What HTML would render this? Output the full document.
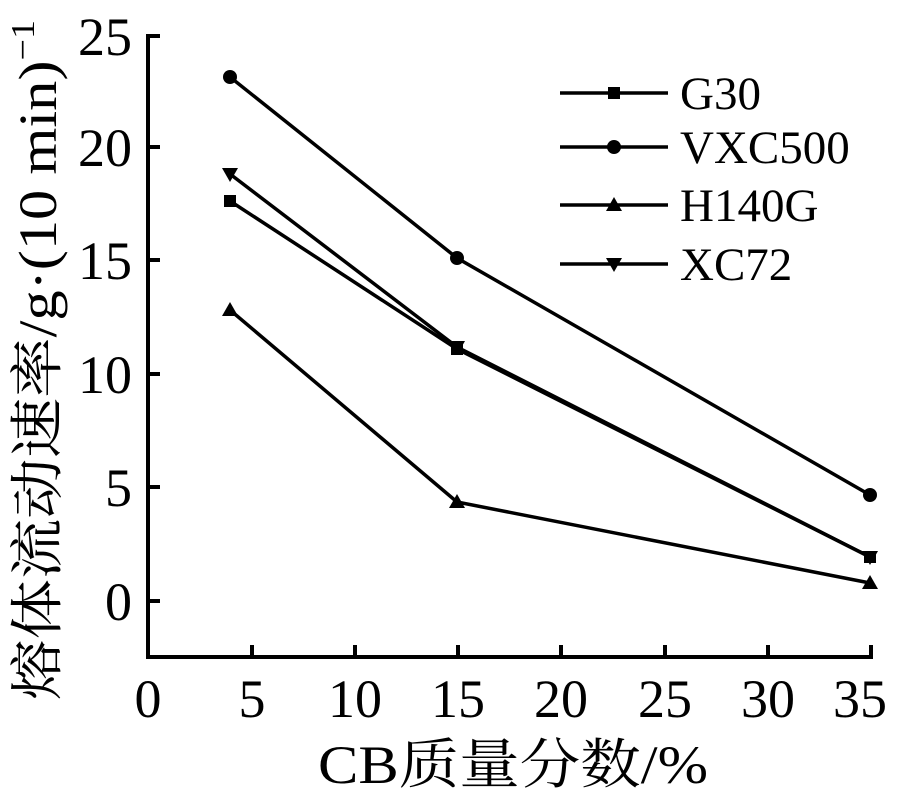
<!DOCTYPE html>
<html><head><meta charset="utf-8"><style>body{margin:0;background:#fff}</style></head><body>
<svg width="901" height="789" xmlns="http://www.w3.org/2000/svg" font-family="Liberation Serif, Noto Serif CJK SC, serif">
<g stroke="#000" stroke-width="4" fill="none">
<polyline points="148,34 148,657 873,657"/>
<line x1="148" y1="36" x2="160" y2="36"/><line x1="148" y1="147" x2="160" y2="147"/>
<line x1="148" y1="260" x2="160" y2="260"/><line x1="148" y1="374" x2="160" y2="374"/>
<line x1="148" y1="487" x2="160" y2="487"/><line x1="148" y1="601" x2="160" y2="601"/>
<line x1="252" y1="657" x2="252" y2="645"/><line x1="355" y1="657" x2="355" y2="645"/>
<line x1="458" y1="657" x2="458" y2="645"/><line x1="561" y1="657" x2="561" y2="645"/>
<line x1="665" y1="657" x2="665" y2="645"/><line x1="768" y1="657" x2="768" y2="645"/>
<line x1="871" y1="657" x2="871" y2="645"/>
</g>
<g stroke="#000" stroke-width="3.5" fill="none">
<polyline points="230,201 457,349 870,557"/>
<polyline points="230,77 457,258 870,495"/>
<polyline points="230,310 457,502 870,583"/>
<polyline points="230,174 457,347 870,557"/>
<line x1="560" y1="93" x2="668" y2="93"/><line x1="560" y1="147" x2="668" y2="147"/>
<line x1="560" y1="205" x2="668" y2="205"/><line x1="560" y1="264" x2="668" y2="264"/>
</g>
<g fill="#000">
<rect x="224" y="195" width="12" height="12"/><rect x="451" y="343" width="12" height="12"/><rect x="864" y="551" width="12" height="12"/>
<circle cx="230" cy="77" r="7"/><circle cx="457" cy="258" r="7"/><circle cx="870" cy="495" r="7"/>
<polygon points="230,302 238,316 222,316"/><polygon points="457,494 465,508 449,508"/><polygon points="870,575 878,589 862,589"/>
<polygon points="222,168 238,168 230,182"/><polygon points="449,341 465,341 457,355"/><polygon points="862,551 878,551 870,565"/>
<rect x="608" y="87" width="12" height="12"/><circle cx="614" cy="147" r="7"/>
<polygon points="614,197 622,211 606,211"/><polygon points="606,258 622,258 614,272"/>
</g>
<g font-size="47" fill="#000">
<text x="680" y="109">G30</text><text x="680" y="163">VXC500</text>
<text x="680" y="221">H140G</text><text x="680" y="280">XC72</text>
</g>
<g font-size="54" fill="#000" text-anchor="end">
<text x="132" y="55">25</text><text x="132" y="166">20</text><text x="132" y="279">15</text>
<text x="132" y="393">10</text><text x="132" y="506">5</text><text x="132" y="620">0</text>
</g>
<g font-size="54" fill="#000" text-anchor="middle">
<text x="148" y="717">0</text><text x="252" y="717">5</text><text x="355" y="717">10</text>
<text x="458" y="717">15</text><text x="561" y="717">20</text><text x="665" y="717">25</text>
<text x="768" y="717">30</text><text x="860" y="717">35</text>
</g>
<text x="318" y="783" font-size="54" fill="#000" textLength="390" lengthAdjust="spacingAndGlyphs">CB质量分数/%</text>
<text transform="translate(56,360) rotate(-90)" font-size="54" text-anchor="middle" fill="#000" textLength="680" lengthAdjust="spacingAndGlyphs">熔体流动速率/g·(10 min)<tspan dy="-22" font-size="34">−1</tspan></text>
</svg>
</body></html>
